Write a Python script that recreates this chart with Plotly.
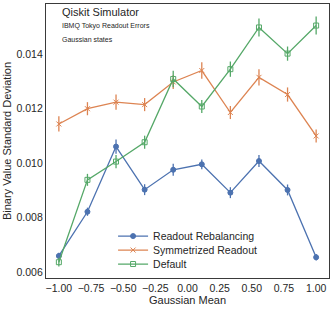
import plotly.graph_objects as go

x_vals = [-1.0, -0.7778, -0.5556, -0.3333, -0.1111, 0.1111, 0.3333, 0.5556, 0.7778, 1.0]
rebal = [0.00659, 0.00821, 0.01060, 0.00902, 0.00975, 0.00995, 0.00891, 0.01007, 0.00901, 0.00654]
rebal_err = [0.00012, 0.00015, 0.00026, 0.00020, 0.00022, 0.00018, 0.00020, 0.00022, 0.00020, 0.00012]
symm = [0.01143, 0.01199, 0.01223, 0.01214, 0.01297, 0.01339, 0.01185, 0.01314, 0.01251, 0.01099]
symm_err = [0.00028, 0.00024, 0.00028, 0.00024, 0.00026, 0.00030, 0.00024, 0.00030, 0.00026, 0.00024]
default = [0.00636, 0.00938, 0.01005, 0.01076, 0.01308, 0.01207, 0.01344, 0.01497, 0.01401, 0.01504]
default_err = [0.00016, 0.00022, 0.00024, 0.00024, 0.00030, 0.00024, 0.00028, 0.00033, 0.00026, 0.00033]

names = ["Readout Rebalancing", "Symmetrized Readout", "Default"]
colors = ["#4C72B0", "#DD8452", "#55A868"]
symbols = ["circle", "x-thin-open", "square-open"]
series = [(rebal, rebal_err), (symm, symm_err), (default, default_err)]
legend_ids = ["legend", "legend2", "legend3"]
legend_y = [0.153, 0.102, 0.051]

fig = go.Figure()
for (vals, errs), name, c, s, lg in zip(series, names, colors, symbols, legend_ids):
    fig.add_trace(go.Scatter(
        x=x_vals, y=vals, name=name, mode="lines+markers", legend=lg,
        line=dict(color=c, width=1.3),
        marker=dict(symbol=s, size=5, color=c, line=dict(color=c, width=1)),
        error_y=dict(type="data", array=errs, visible=True, color=c, thickness=1.3, width=0),
    ))

font_family = "Arial, Liberation Sans, sans-serif"
legend_common = dict(x=0.237, xanchor="left", yanchor="middle",
                     bgcolor="rgba(0,0,0,0)", font=dict(size=10.5, color="#262626"),
                     itemwidth=30)
fig.update_layout(
    width=333, height=310,
    margin=dict(l=46, r=4, t=4, b=32, autoexpand=False),
    paper_bgcolor="white", plot_bgcolor="white",
    font=dict(family=font_family, size=11, color="#262626"),
    showlegend=True,
    legend=dict(y=legend_y[0], **legend_common),
    legend2=dict(y=legend_y[1], **legend_common),
    legend3=dict(y=legend_y[2], **legend_common),
    xaxis=dict(range=[-1.1, 1.1], tickvals=[-1.0, -0.75, -0.5, -0.25, 0.0, 0.25, 0.5, 0.75, 1.0],
               ticktext=["\u22121.00", "\u22120.75", "\u22120.50", "\u22120.25", "0.00", "0.25", "0.50", "0.75", "1.00"],
               showgrid=False, zeroline=False, showline=True, mirror=True, automargin=False,
               linecolor="#3a3a3a", linewidth=1.3, ticks="", tickfont=dict(size=10.5),
               title=dict(text="Gaussian Mean", font=dict(size=11), standoff=2)),
    yaxis=dict(range=[0.00578, 0.01583], tickvals=[0.006, 0.008, 0.010, 0.012, 0.014],
               ticktext=["0.006", "0.008", "0.010", "0.012", "0.014"],
               showgrid=False, zeroline=False, showline=True, mirror=True, automargin=False,
               linecolor="#3a3a3a", linewidth=1.3, ticks="", tickfont=dict(size=10.5),
               title=dict(text="Binary Value Standard Deviation", font=dict(size=11), standoff=2)),
    annotations=[
        dict(text="Qiskit Simulator", x=0.05, y=1.0, xref="paper", yref="paper",
             xanchor="left", yanchor="top", showarrow=False, font=dict(size=11, color="#262626")),
        dict(text="IBMQ Tokyo Readout Errors", x=0.05, y=0.94, xref="paper", yref="paper",
             xanchor="left", yanchor="top", showarrow=False, font=dict(size=7, color="#262626")),
        dict(text="Gaussian states", x=0.05, y=0.89, xref="paper", yref="paper",
             xanchor="left", yanchor="top", showarrow=False, font=dict(size=7, color="#262626")),
    ],
)

fig.write_html("out.html", config={"displayModeBar": False},
               post_script="document.body.style.margin='0';document.body.style.overflow='hidden';")
